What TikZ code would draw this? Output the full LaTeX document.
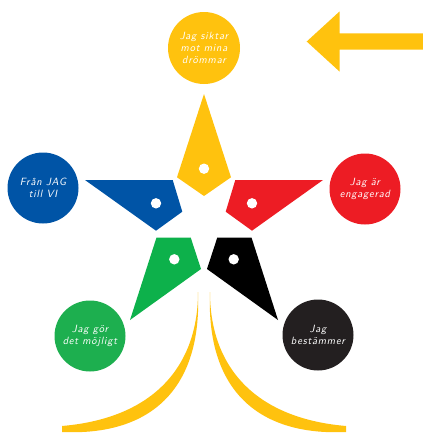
\documentclass[tikz,border=0pt]{standalone}
\usepackage{fontspec}
\newfontfamily\handfont{Latin Modern Sans}[FakeSlant=0.2,LetterSpace=7]
\definecolor{starYellow}{HTML}{FFC20E}
\definecolor{starBlue}{HTML}{0054A6}
\definecolor{starRed}{HTML}{ED1C24}
\definecolor{starGreen}{HTML}{0DB14B}
\definecolor{circGreen}{HTML}{1DAF4F}
\definecolor{circBlack}{HTML}{231F20}
\begin{document}
\begin{tikzpicture}[x=1pt,y=-1pt,
  badge/.style={circle,minimum size=71pt,inner sep=0pt,text=white,align=center,
    font=\handfont\fontsize{10.5}{12}\selectfont},
  hole/.style={fill=white}]
\useasboundingbox (0,0) rectangle (423,434);

% arrow pointing left, top right
\fill[starYellow] (306.7,41.5) -- (339.5,11.5) -- (339.5,33.3) -- (423,33.3)
  -- (423,49.5) -- (339.5,49.5) -- (339.5,71.5) -- cycle;

% star pieces
\fill[starYellow] (204,94) -- (231,177.3) -- (204,196) -- (177,177.3) -- cycle;
\fill[starBlue] (85,180) -- (172.7,180) -- (182.3,211.7) -- (156,230.7) -- cycle;
\fill[starRed] (323,180) -- (235.3,180) -- (225.7,211.7) -- (252,230.7) -- cycle;
\fill[starGreen] (156.5,237.5) -- (190.7,237.5) -- (201,269) -- (130,320) -- cycle;
\fill[black] (251.5,237.5) -- (217.3,237.5) -- (207,269) -- (278,320) -- cycle;

% holes in the pieces
\fill[hole] (204,168.7) circle (5.2);
\fill[hole] (156,203.3) circle (5.2);
\fill[hole] (252,203.3) circle (5.2);
\fill[hole] (174.3,259.3) circle (5.2);
\fill[hole] (233.7,259.3) circle (5.2);

% sweeping yellow arcs below the star
\fill[starYellow] (198,292) .. controls (202,390) and (150,436) .. (62,432)
  -- (62,426) .. controls (155,418) and (198,365) .. (198,292) -- cycle;
\fill[starYellow] (210,292) .. controls (206,390) and (258,436) .. (346,432)
  -- (346,426) .. controls (253,418) and (210,365) .. (210,292) -- cycle;

% value badges
\node[badge,fill=starYellow,minimum size=72pt] (aim) at (204,48) {Jag siktar\\mot mina\\drömmar};
\node[badge,fill=starBlue] (we) at (43,188) {Från JAG\\till VI};
\node[badge,fill=starRed] (engaged) at (365,189) {Jag är\\engagerad};
\node[badge,fill=circGreen] (possible) at (90,336) {Jag gör\\det möjligt};
\node[badge,fill=circBlack] (decide) at (318,335) {Jag\\bestämmer};
\end{tikzpicture}
\end{document}
